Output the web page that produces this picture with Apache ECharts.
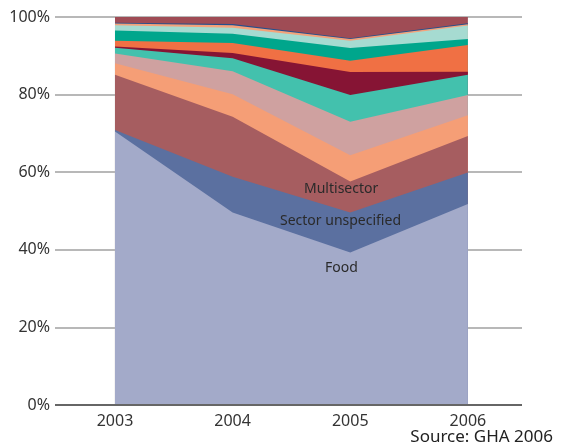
<!DOCTYPE html>
<html>
<head>
<meta charset="utf-8">
<script src="https://cdn.jsdelivr.net/npm/echarts@6/dist/echarts.min.js"></script>
<style>
html,body{margin:0;padding:0;background:#fff;}
#c{width:561px;height:447px;}
</style>
</head>
<body>
<div id="c"></div>
<script>
var years = [2003, 2004, 2005, 2006];
var yTicks = [0, 20, 40, 60, 80, 100];
var seriesNames = ["Food", "Sector unspecified", "Multisector", "Health", "Water and sanitation", "Agriculture", "Education", "Shelter and non-food items", "Coordination and support services", "Economic recovery and infrastructure", "Mine action", "Protection/human rights/rule of law", "Other"];
var food       = [70.5, 49.6, 39.3, 51.8];
var unspec     = [0.4, 9.2, 10.3, 8.1];
var multi      = [14.2, 15.5, 8.0, 9.4];
var health     = [3.0, 5.8, 6.8, 5.4];
var water      = [2.5, 5.9, 8.6, 5.2];
var agri       = [1.5, 3.4, 6.9, 5.2];
var educ       = [0.3, 1.3, 5.9, 0.8];
var shelter    = [1.5, 2.6, 2.9, 6.9];
var coord      = [2.6, 2.4, 3.3, 1.5];
var econ       = [1.4, 1.5, 1.9, 3.5];
var mine       = [0.4, 0.7, 0.4, 0.3];
var protect    = [0.2, 0.3, 0.2, 0.3];
var other      = [1.5, 1.8, 5.5, 1.6];
var values = [food, unspec, multi, health, water, agri, educ, shelter, coord, econ, mine, protect, other];
var colors = ["#a3aac9", "#5b70a0", "#a65d60", "#f59e76", "#cfa1a0", "#43c1ad", "#861434", "#f07044", "#00a68c", "#a6dbd1", "#f4a27a", "#24508f", "#9f4c55"];

// cumulative totals; each series fills down to 0, higher layers drawn behind lower ones
var cum = years.map(function () { return 0; });
var series = values.map(function (vals, i) {
  var data = years.map(function (y, j) { cum[j] += vals[j]; return [y, cum[j]]; });
  return {
    name: seriesNames[i],
    type: 'line',
    symbol: 'none',
    lineStyle: { width: 0 },
    areaStyle: { color: colors[i], opacity: 1 },
    itemStyle: { color: colors[i] },
    z: 30 - i,
    data: data
  };
});
var font = 'Noto Sans';
var chart = echarts.init(document.getElementById('c'));
chart.setOption({
  animation: false,
  grid: { left: 55, right: 39, top: 17, bottom: 42 },
  xAxis: {
    type: 'value',
    min: 2002.49,
    max: 2006.46,
    axisLine: { show: false },
    axisTick: { show: false },
    splitLine: { show: false },
    axisLabel: {
      customValues: years,
      color: '#333',
      fontFamily: font,
      fontSize: 16,
      margin: 8,
      formatter: function (v) { return String(v); }
    }
  },
  yAxis: {
    type: 'value',
    min: 0,
    max: 100,
    interval: 20,
    axisLine: { show: false },
    axisTick: { show: false },
    splitLine: { show: true, lineStyle: { color: '#a0a0a0', width: 1.5 } },
    axisLabel: {
      color: '#333',
      fontFamily: font,
      fontSize: 16,
      margin: 5,
      formatter: function (v) { return yTicks.indexOf(v) >= 0 ? v + '%' : ''; }
    }
  },
  series: series,
  graphic: [
    { type: 'line', z: 100, shape: { x1: 55, y1: 405, x2: 522, y2: 405 }, style: { stroke: '#666', lineWidth: 2 } },
    { type: 'text', z: 100, left: 304, top: 182, style: { text: 'Multisector', fill: '#2a2a2a', font: '14px "Noto Sans"' } },
    { type: 'text', z: 100, left: 280, top: 214, style: { text: 'Sector unspecified', fill: '#2a2a2a', font: '14px "Noto Sans"' } },
    { type: 'text', z: 100, left: 325, top: 261, style: { text: 'Food', fill: '#2a2a2a', font: '14px "Noto Sans"' } },
    { type: 'text', z: 100, right: 8, top: 429, style: { text: 'Source: GHA 2006', fill: '#222', font: '17px "Noto Sans"' } }
  ]
});
</script>
</body>
</html>
